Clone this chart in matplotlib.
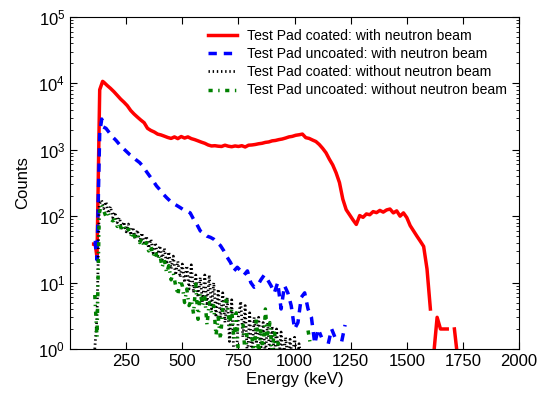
import numpy as np
import matplotlib
matplotlib.use('Agg')
import matplotlib.pyplot as plt

plt.rcParams['font.family'] = ['Liberation Sans', 'DejaVu Sans']
plt.rcParams['mathtext.default'] = 'regular'
plt.rcParams['lines.scale_dashes'] = False

# coated pad, with beam
red_e = [105, 112, 120, 132, 145,
         150, 165, 180, 195, 210, 225, 240, 255, 270, 285, 300, 315, 330, 345,
         360, 375, 390, 405, 420, 435, 450, 465, 480, 495, 510, 525, 540, 555,
         570, 585, 600, 615, 630, 645, 660, 675, 690, 705, 720, 735, 750, 765,
         780, 795, 810, 825, 840, 855, 870, 885, 900, 915, 930, 945, 960, 975,
         990, 1005, 1020, 1035, 1050, 1065, 1080, 1095, 1110, 1125, 1140, 1155,
         1170, 1185, 1200, 1215, 1230, 1245, 1260, 1275, 1290, 1305, 1320, 1335,
         1350, 1365, 1380, 1395, 1410, 1425, 1440, 1455, 1470, 1485, 1500, 1515,
         1530, 1545, 1560, 1575, 1590, 1605, 1615, 1622, 1635, 1650, 1665, 1680,
         1695, 1712, 1722, 1735]
red_c = [38, 38, 24, 8000, 10700,
         10400, 9300, 8400, 7500, 6600, 5800, 5200, 4600, 3900, 3450, 3100, 2800, 2550, 2100,
         1950, 1850, 1720, 1670, 1600, 1530, 1480, 1560, 1470, 1580, 1500, 1560, 1470, 1420,
         1360, 1300, 1250, 1180, 1140, 1150, 1130, 1120, 1170, 1130, 1110, 1140, 1120, 1150,
         1100, 1170, 1180, 1200, 1230, 1250, 1290, 1310, 1360, 1380, 1420, 1450, 1500, 1560,
         1590, 1650, 1680, 1720, 1520, 1480, 1400, 1330, 1200, 1050, 900, 720,
         590, 450, 320, 180, 125, 105, 88, 75, 102, 96, 108, 105,
         117, 113, 122, 115, 124, 128, 112, 120, 100, 112, 95, 72,
         60, 50, 42, 35, 16, 4, 0, 1, 3, 2, 2, 2,
         0, 2, 1, 0]

# uncoated pad, with beam
blue_e = [105, 112, 120, 132, 141, 148, 160, 175, 190, 205, 220, 235, 250, 265,
          280, 295, 310, 325, 340, 355, 370, 385, 400, 415, 430, 445, 460, 475,
          490, 505, 520, 535, 550, 565, 580, 595, 610, 625, 640, 655, 670, 685,
          700, 715, 730, 745, 760, 775, 790, 805, 820, 835, 850, 865, 880, 895,
          910, 925, 940, 955, 970, 985, 1000, 1015, 1030, 1045, 1060, 1075, 1090,
          1105, 1120, 1135, 1150, 1165, 1180, 1195, 1210, 1225, 1240, 1300, 1310,
          1320, 1390, 1400, 1410]
blue_c = [40, 40, 22, 1800, 2900, 2200, 2100, 1800, 1550, 1380, 1200, 1060, 950, 850,
          780, 700, 640, 560, 470, 400, 340, 285, 250, 215, 190, 170, 155, 145,
          135, 125, 120, 112, 90, 75, 60, 55, 50, 48, 45, 40, 36, 30,
          24, 20, 15, 17, 15, 13, 15, 10, 8.5, 9, 11, 13, 11, 9,
          7, 10, 4, 9, 7, 4.5, 2, 2.5, 6, 7, 4, 3, 1.2,
          2, 1.5, 0, 1.2, 2, 1.5, 0, 1.3, 2.3, 0, 0, 1.1,
          0, 0, 1.1, 0]

# coated pad, no beam (10 keV bins)
black_e = np.arange(110, 1050, 10)
black_c = [1, 3, 150, 175, 130, 165, 110, 140, 95, 115, 80, 95, 66, 82, 58, 76,
           52, 68, 46, 62, 41, 56, 37, 50, 33, 45, 28, 40, 25, 36, 22, 33,
           19, 29, 16, 25, 13, 21, 12, 19, 10, 18, 8, 18.5, 7, 13, 6, 12,
           5, 13, 4.5, 13, 4, 10, 3, 8, 2.8, 7, 2.5, 6, 1.3, 5.5, 0.7, 0.7,
           3.1, 5.2, 1.5, 4.5, 0.7, 3.5, 0.7, 3, 1.2, 3, 1.0, 2.5, 0.8, 2.5,
           0.8, 2.2, 0.8, 2, 0.7, 1.8, 0.7, 1.5, 0.7, 1.4, 0.7, 1.5, 0.7, 1.2,
           0.7, 0]

# uncoated pad, no beam (10 keV bins)
green_e = np.arange(100, 1090, 10)
green_c = [0, 6.5, 1.5, 110, 150, 120, 98, 110, 90, 85, 88, 70, 78, 62, 70, 58,
           64, 50, 58, 46, 52, 40, 46, 34, 40, 30, 35, 25, 30, 22, 26, 17,
           22, 14, 18, 11, 14, 9, 6.5, 11, 9, 5, 8, 4.5, 5.5, 3.4, 9.5, 2.8,
           7, 4.5, 6, 2.3, 5, 3.5, 4.5, 1.6, 3, 1.4, 4, 6, 5, 2.2, 4, 1.4,
           3.5, 0.8, 0, 2.4, 0.8, 2, 0, 1.5, 0.8, 3, 0.8, 2, 0.8, 4,
           1.5, 2.5, 0.8, 2, 0.8, 1.5, 0, 0, 0, 0, 0, 0, 0, 0,
           0, 0, 0, 0, 1.9, 1.2, 0]

fig = plt.figure(figsize=(5.39, 3.93), dpi=100)
ax = fig.add_axes([0.130, 0.112, 0.833, 0.845])

ax.plot(red_e, red_c, color='red', lw=2.5, label='Test Pad coated: with neutron beam')
ax.plot(blue_e, blue_c, color='blue', lw=2.5, linestyle=(0, (6, 5)),
        label='Test Pad uncoated: with neutron beam')
ax.plot(black_e, black_c[:len(black_e)], color='black', lw=2, linestyle=(0, (1, 2)),
        label='Test Pad coated: without neutron beam')
ax.plot(green_e, green_c[:len(green_e)], color='green', lw=2.5, linestyle=(0, (3, 4, 1, 4)),
        label='Test Pad uncoated: without neutron beam')

ax.set_yscale('log', nonpositive='mask')
ax.set_xlim(0, 2000)
ax.set_ylim(1, 1e5)
ax.set_xticks([250, 500, 750, 1000, 1250, 1500, 1750, 2000])
ax.set_xlabel('Energy (keV)', fontsize=12, labelpad=2)
ax.set_ylabel('Counts', fontsize=12, labelpad=6)
ax.tick_params(which='both', direction='in', top=True, right=True, labelsize=12)
ax.tick_params(which='major', length=5)
ax.tick_params(which='minor', length=2.5)

ax.legend(loc='upper right', frameon=False, fontsize=10.1, handlelength=2.1,
          handletextpad=0.7, borderaxespad=0.45, labelspacing=0.3)

fig.savefig('out.png', dpi=100)
